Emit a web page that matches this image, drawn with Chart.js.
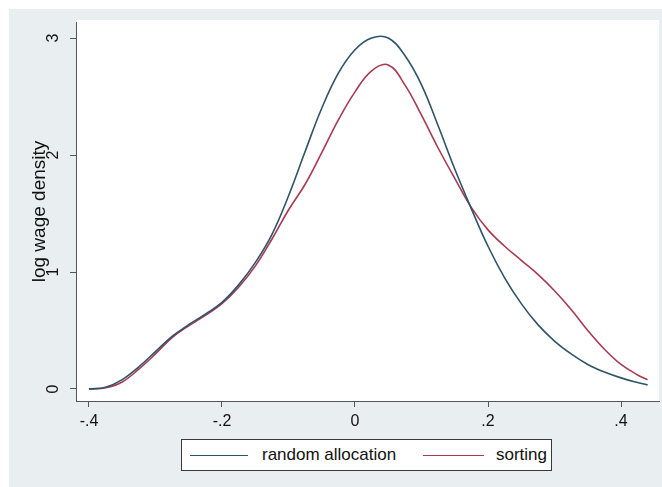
<!DOCTYPE html>
<html><head><meta charset="utf-8">
<script src="https://cdn.jsdelivr.net/npm/chart.js@4/dist/chart.umd.min.js"></script>
<style>
html,body{margin:0;padding:0;background:#fff;}
#wrap{position:relative;width:662px;height:487px;overflow:hidden;}
canvas{position:absolute;left:0;top:0;}
#legend{position:absolute;left:181px;top:439px;width:369px;height:30px;border:1px solid #3a3a3a;background:#fff;font-family:"Liberation Sans",Arial,sans-serif;font-size:17px;color:#111;}
#legend .ln{position:absolute;top:15px;height:0;border-top:1.6px solid #000;}
#legend .tx{position:absolute;top:5px;line-height:20px;white-space:nowrap;}
</style></head>
<body>
<div id="wrap">
<canvas id="c" width="662" height="487"></canvas>
<div id="legend"></div>
</div>
<script>
const seriesLabels = ['random allocation', 'sorting'];
const seriesColors = ['#2d5468', '#a83a52'];

const xValues  = [-0.40,-0.375,-0.35,-0.325,-0.30,-0.275,-0.25,-0.225,-0.20,-0.175,-0.15,-0.125,-0.10,-0.075,-0.05,-0.025,0.00,0.025,0.05,0.075,0.10,0.125,0.15,0.175,0.20,0.225,0.25,0.275,0.30,0.325,0.35,0.375,0.40,0.425,0.44];
const randomY  = [0.00,0.015,0.08,0.19,0.32,0.45,0.55,0.64,0.74,0.89,1.08,1.32,1.65,2.03,2.40,2.70,2.90,3.00,3.00,2.85,2.60,2.25,1.88,1.54,1.22,0.95,0.73,0.55,0.41,0.30,0.21,0.145,0.095,0.055,0.035];
const sortingY = [0.00,0.01,0.06,0.17,0.30,0.44,0.54,0.63,0.73,0.87,1.05,1.28,1.53,1.75,2.02,2.30,2.54,2.72,2.77,2.60,2.34,2.06,1.80,1.55,1.36,1.22,1.10,0.98,0.84,0.68,0.50,0.34,0.21,0.12,0.08];

const xTickValues = [-0.4,-0.2,0,0.2,0.4];
const xTickLabels = ['-.4','-.2','0','.2','.4'];
const yTickValues = [0,1,2,3];
const yTickLabels = ['0','1','2','3'];
const yTitle = 'log wage density';

const FONT = '"Liberation Sans", Arial, sans-serif';

const bgPlugin = {
  id: 'bg',
  beforeDraw(chart) {
    const ctx = chart.ctx, a = chart.chartArea;
    ctx.save();
    ctx.fillStyle = '#ffffff';
    ctx.fillRect(0, 0, chart.width, chart.height);
    ctx.fillStyle = '#e9eff1';
    ctx.fillRect(9, 9, chart.width - 9, chart.height - 9);
    ctx.fillStyle = '#ffffff';
    ctx.fillRect(a.left, a.top - 2, a.right - a.left, a.bottom - a.top + 2);
    ctx.restore();
  }
};

const datasets = [randomY, sortingY].map((ys, i) => ({
  label: seriesLabels[i],
  data: xValues.map((v, j) => ({x: v, y: ys[j]})),
  borderColor: seriesColors[i],
  backgroundColor: seriesColors[i],
  borderWidth: 1.6,
  pointRadius: 0,
  tension: 0.4,
  fill: false
}));

new Chart(document.getElementById('c'), {
  type: 'line',
  data: {datasets},
  plugins: [bgPlugin],
  options: {
    responsive: false,
    animation: false,
    events: [],
    layout: {padding: {left: 0, top: 22, right: 3, bottom: 0}},
    plugins: {legend: {display: false}, tooltip: {enabled: false}},
    scales: {
      x: {
        type: 'linear',
        min: -0.4195, max: 0.4571,
        afterBuildTicks: s => { s.ticks = xTickValues.map(v => ({value: v})); },
        afterFit: s => { s.height = 86; },
        ticks: {
          callback: (v, i) => xTickLabels[i],
          font: {family: FONT, size: 16},
          color: '#111',
          padding: 5,
          maxRotation: 0, minRotation: 0
        },
        grid: {drawOnChartArea: false, drawTicks: true, tickLength: 6, color: '#555', lineWidth: 1},
        border: {display: true, color: '#555', width: 1}
      },
      y: {
        type: 'linear',
        min: -0.1026, max: 3.137,
        afterBuildTicks: s => { s.ticks = yTickValues.map(v => ({value: v})); },
        afterFit: s => { s.width = 76; },
        ticks: {
          callback: (v, i) => yTickLabels[i],
          font: {family: FONT, size: 16},
          color: '#111',
          padding: 12,
          minRotation: 90, maxRotation: 90,
          crossAlign: 'center'
        },
        grid: {drawOnChartArea: false, drawTicks: true, tickLength: 6, color: '#555', lineWidth: 1},
        border: {display: true, color: '#555', width: 1},
        title: {display: true, text: yTitle, font: {family: FONT, size: 19}, color: '#111', padding: {top: 28, bottom: 0}}
      }
    }
  }
});

// legend built from series labels/colours
const lg = document.getElementById('legend');
const linePos = [[8, 58], [241, 61]];
const textPos = [80, 314];
seriesLabels.forEach((lab, i) => {
  const l = document.createElement('div');
  l.className = 'ln';
  l.style.left = linePos[i][0] + 'px';
  l.style.width = linePos[i][1] + 'px';
  l.style.borderTopColor = seriesColors[i];
  lg.appendChild(l);
  const t = document.createElement('div');
  t.className = 'tx';
  t.style.left = textPos[i] + 'px';
  t.textContent = lab;
  lg.appendChild(t);
});
</script>
</body></html>
